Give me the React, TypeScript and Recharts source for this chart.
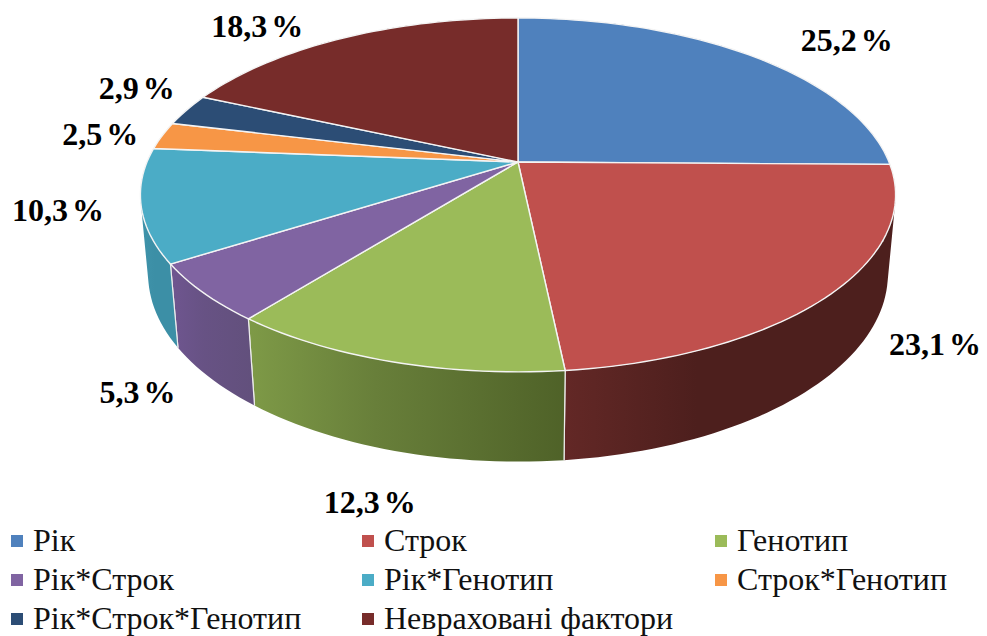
import { PieChart, Pie, Cell, Legend } from "recharts"

const categories = ["Рік", "Строк", "Генотип", "Рік*Строк", "Рік*Генотип", "Строк*Генотип", "Рік*Строк*Генотип", "Невраховані фактори"]
const shares = [25.2, 23.1, 12.3, 5.3, 10.3, 2.5, 2.9, 18.3]
const colors = ["#4f81bd", "#c0504d", "#9bbb59", "#8064a2", "#4bacc6", "#f79646", "#2c4d75", "#772c2a"]

// side wall shading: left, middle, right
const wallColors = [
  ["#3a5f8c", "#3a5f8c", "#3a5f8c"],
  ["#632826", "#4d1f1d", "#4d1f1d"],
  ["#7e9a47", "#687f3a", "#4f6228"],
  ["#6f5690", "#675284", "#62507c"],
  ["#3f93aa", "#3c8fa6", "#3c8fa6"],
  ["#b86f33", "#b86f33", "#b86f33"],
  ["#213a58", "#213a58", "#213a58"],
  ["#5a2120", "#5a2120", "#5a2120"],
]

// label nudges away from the rim point of each slice
const labelOffsets = [
  [95, -16],
  [104, 50],
  [-22, 140],
  [-66, 99],
  [-83, 5],
  [-62, -2],
  [-50, -22],
  [-86, -12],
]

const data = categories.map((name, i) => ({ name, value: shares[i] }))

const SERIF = "'Liberation Serif', 'Times New Roman', serif"

const CX = 518
const CY = 162
const RADIUS = 371

// perspective of the tilted disc
const PERSPECTIVE = 0.186
const TILT = 0.4605
const DEPTH = 0.213
const SHRINK = 0.02

const project = (angle: number, cx: number, cy: number, r: number, low = false) => {
  const rad = ((90 - angle) * Math.PI) / 180
  const x = Math.sin(rad)
  const z = Math.cos(rad)
  const d = 1 + PERSPECTIVE * z + (low ? SHRINK : 0)
  return {
    x: cx + (r * x) / d,
    y: cy + (r * (-TILT * z + (low ? DEPTH : 0))) / d,
  }
}

const fmt = (p: { x: number; y: number }) => `${p.x.toFixed(2)},${p.y.toFixed(2)}`

const arcAngles = (start: number, end: number) => {
  const steps = Math.max(2, Math.ceil(Math.abs(start - end) / 1.5))
  const out = []
  for (let i = 0; i <= steps; i++) out.push(start + ((end - start) * i) / steps)
  return out
}

const TopSlice = (props: any) => {
  const { cx, cy, outerRadius, startAngle, endAngle, fill } = props
  const pts = arcAngles(startAngle, endAngle).map((a) => fmt(project(a, cx, cy, outerRadius)))
  return <path d={`M${cx},${cy}L${pts.join("L")}Z`} fill={fill} stroke="#f4f4f4" strokeWidth={1.4} strokeLinejoin="round" />
}

// the wall is a strip of small quads so the silhouette between the two rims fills in
const WallSlice = (props: any) => {
  const { cx, cy, outerRadius, startAngle, endAngle, index } = props
  const angles = arcAngles(startAngle, endAngle)
  let d = ""
  for (let i = 0; i < angles.length - 1; i++) {
    const q = [
      project(angles[i], cx, cy, outerRadius),
      project(angles[i + 1], cx, cy, outerRadius),
      project(angles[i + 1], cx, cy, outerRadius, true),
      project(angles[i], cx, cy, outerRadius, true),
    ]
    let area = 0
    q.forEach((p, j) => {
      const n = q[(j + 1) % 4]
      area += p.x * n.y - n.x * p.y
    })
    if (area < 0) q.reverse()
    d += `M${q.map(fmt).join("L")}Z`
  }
  const edge = (a: number) => {
    const t = project(a, cx, cy, outerRadius)
    const b = project(a, cx, cy, outerRadius, true)
    return `M${fmt(t)}L${fmt(b)}`
  }
  const [left, mid, right] = wallColors[index]
  const id = `wall-${index}`
  return (
    <g>
      <defs>
        <linearGradient id={id} x1="0" y1="0" x2="1" y2="0">
          <stop offset="0%" stopColor={left} />
          <stop offset="40%" stopColor={mid} />
          <stop offset="100%" stopColor={right} />
        </linearGradient>
      </defs>
      <path d={d} fill={`url(#${id})`} stroke="none" />
      <path d={edge(startAngle) + edge(endAngle)} fill="none" stroke="#ececec" strokeWidth={1.2} />
    </g>
  )
}

const renderLabel = (props: any) => {
  const { cx, cy, outerRadius, midAngle, index, value } = props
  const rim = project(midAngle, cx, cy, outerRadius)
  const [dx, dy] = labelOffsets[index]
  return (
    <text
      x={rim.x + dx}
      y={rim.y + dy}
      textAnchor="middle"
      dominantBaseline="central"
      fontFamily={SERIF}
      fontWeight="bold"
      fontSize={32}
      wordSpacing={-4}
      fill="#000"
    >
      {`${String(value).replace(".", ",")} %`}
    </text>
  )
}

const renderLegend = (props: any) => {
  const items = (props.payload || []).filter((item: any) => item.type !== "none").slice(-categories.length)
  return (
    <div style={{ display: "grid", gridTemplateColumns: "351px 353px 272px", paddingLeft: 11, rowGap: 0 }}>
      {items.map((item: any) => (
        <div key={item.value} style={{ display: "flex", alignItems: "center", height: 39, fontFamily: SERIF, fontSize: 32, color: "#111", whiteSpace: "nowrap" }}>
          <span style={{ width: 12, height: 12, background: item.color, marginRight: 10, flex: "none" }} />
          {item.value}
        </div>
      ))}
    </div>
  )
}

export default function App() {
  return (
    <div style={{ position: "absolute", left: 0, top: 0, width: 987, height: 636, background: "#fff" }}>
      <PieChart width={987} height={636} margin={{ top: 0, right: 0, bottom: 0, left: 0 }}>
        <Pie
          data={data}
          dataKey="value"
          nameKey="name"
          cx={CX}
          cy={CY}
          outerRadius={RADIUS}
          startAngle={90}
          endAngle={-270}
          legendType="none"
          isAnimationActive={false}
          shape={WallSlice}
        />
        <Pie
          data={data}
          dataKey="value"
          nameKey="name"
          cx={CX}
          cy={CY}
          outerRadius={RADIUS}
          startAngle={90}
          endAngle={-270}
          isAnimationActive={false}
          shape={TopSlice}
          label={renderLabel}
          labelLine={false}
        >
          {data.map((entry, i) => (
            <Cell key={entry.name} fill={colors[i]} />
          ))}
        </Pie>
        <Legend content={renderLegend} itemSorter={null} wrapperStyle={{ left: 0, top: 521, width: 987 }} />
      </PieChart>
    </div>
  )
}
